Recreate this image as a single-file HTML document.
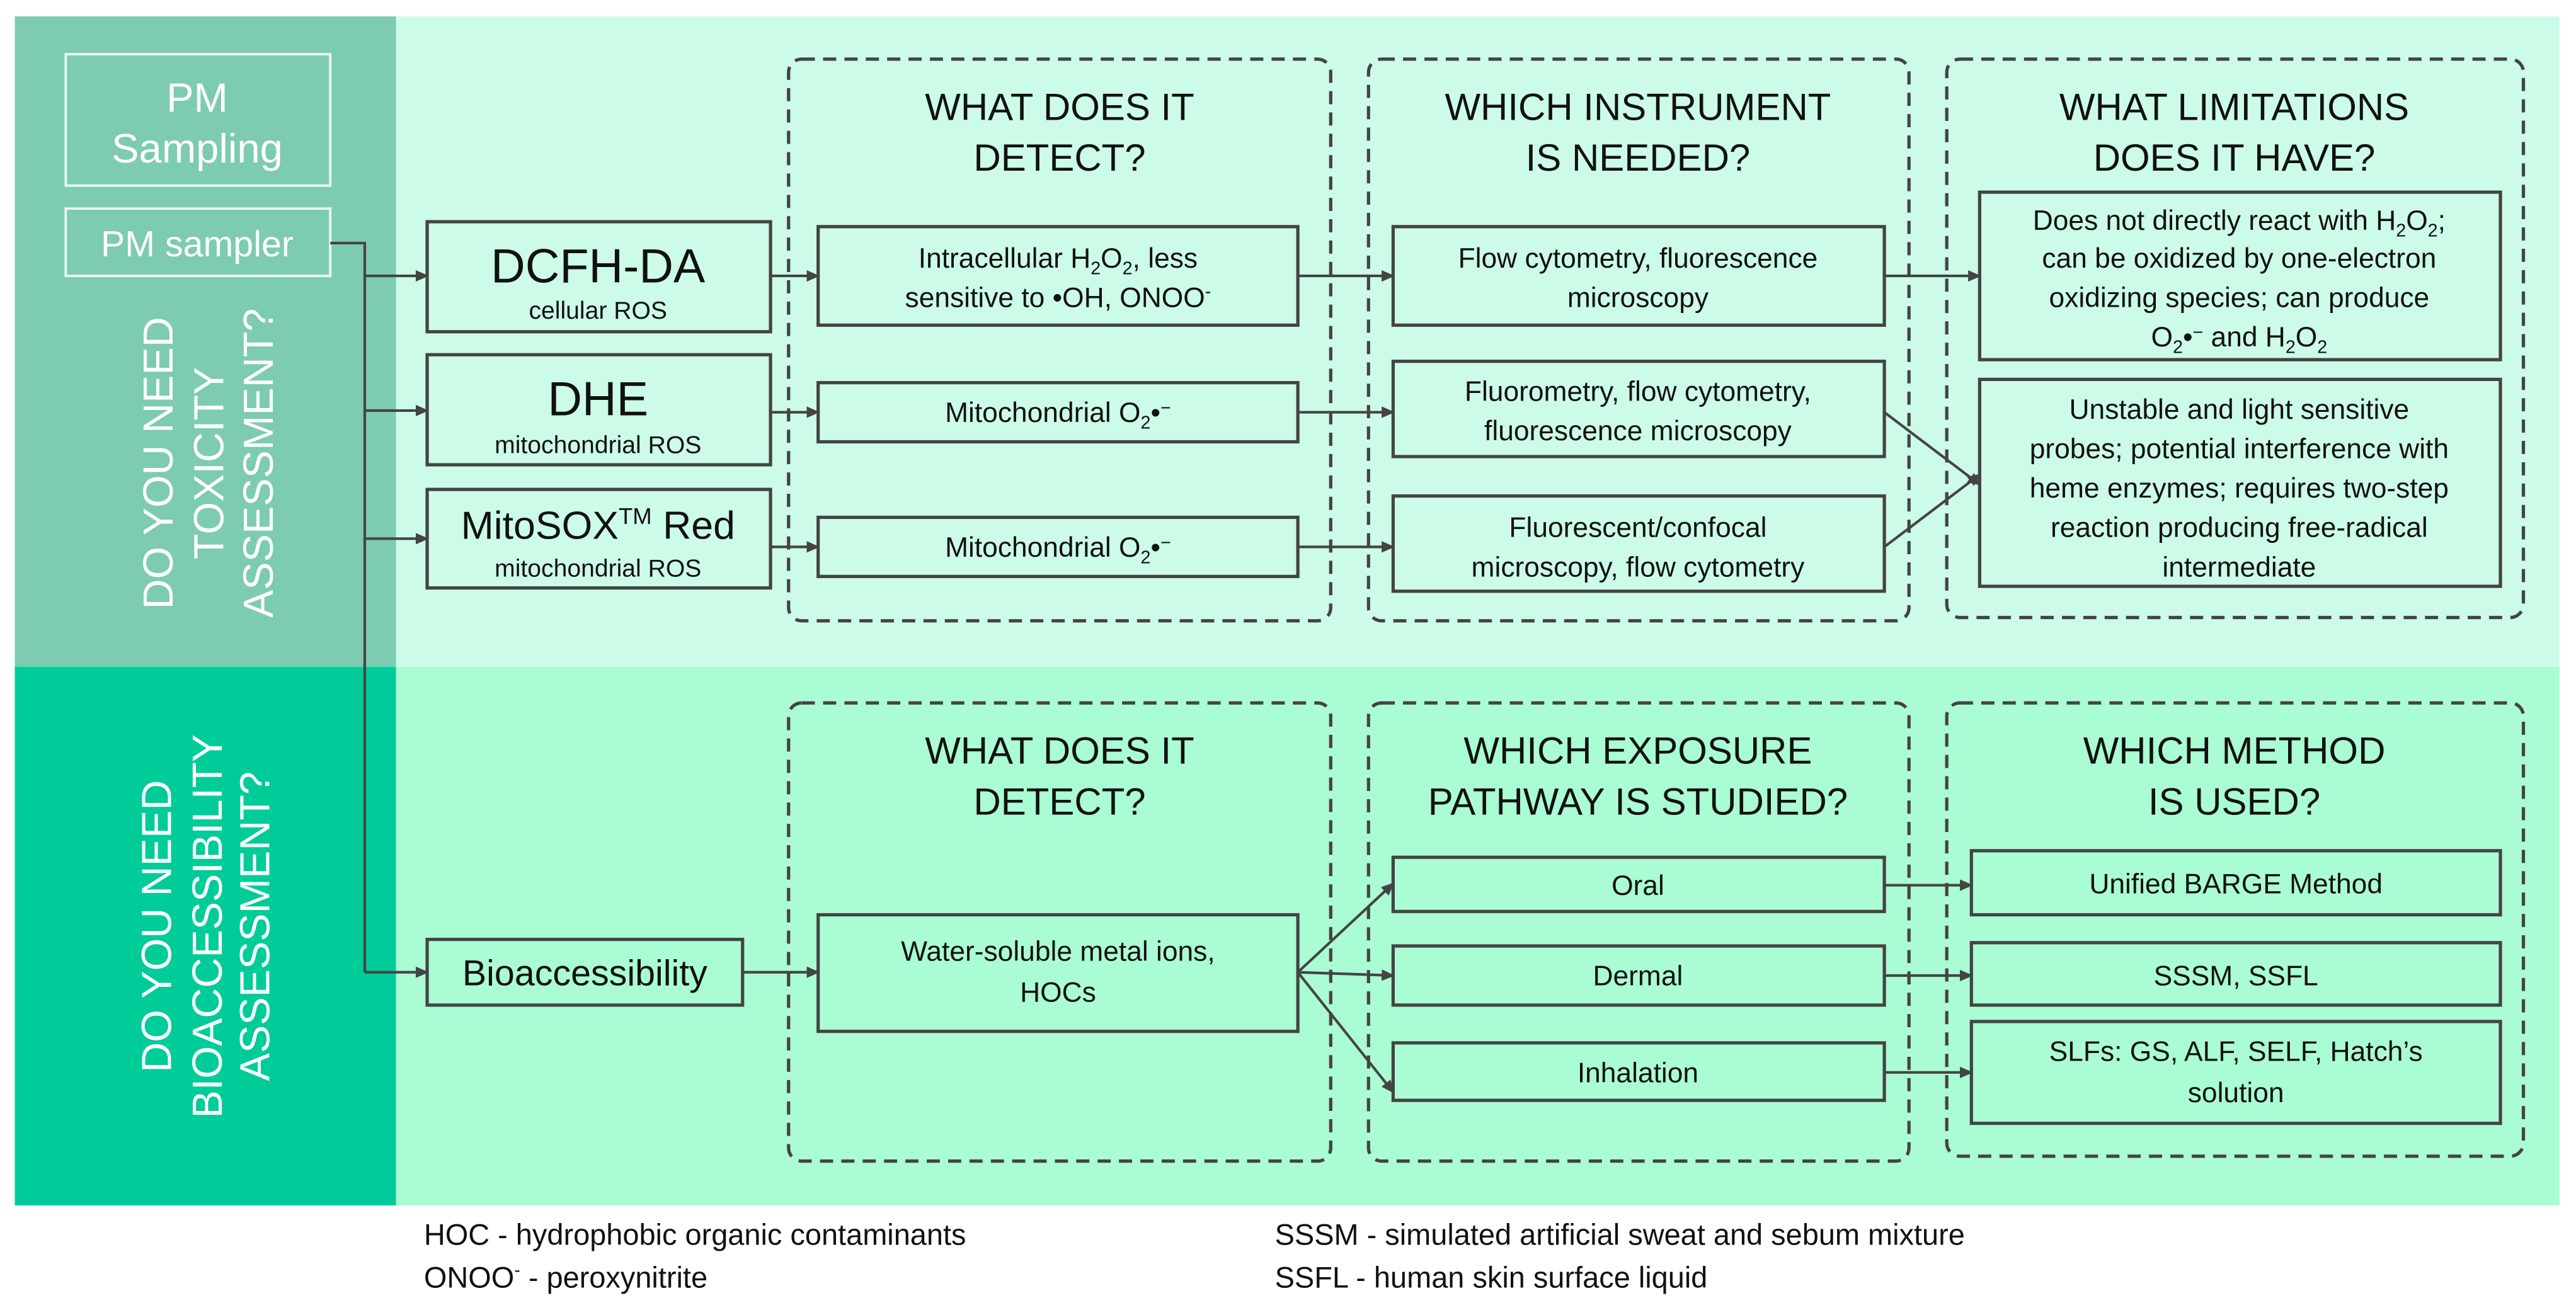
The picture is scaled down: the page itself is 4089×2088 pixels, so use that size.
<!DOCTYPE html>
<html><head><meta charset="utf-8"><style>
html,body{margin:0;padding:0;background:#fff;}
svg{display:block;}
text{font-family:"Liberation Sans",Arial,sans-serif;fill:#111;}
.w{fill:#fff;}
.v{font-family:"Liberation Sans",Arial,sans-serif;fill:#fff;font-size:25.5px;}
.b{fill:none;stroke:#444;stroke-width:2;}
.d{fill:none;stroke:#444;stroke-width:2;stroke-dasharray:8 5;}
.l{fill:none;stroke:#444;stroke-width:1.6;}
.h{font-size:23px;}
.t{font-size:17px;}
</style></head><body>
<svg width="4089" height="2088" viewBox="0 0 1568 800.7" xmlns="http://www.w3.org/2000/svg">
<defs><marker id="a" markerWidth="8" markerHeight="8" refX="7" refY="4" orient="auto" markerUnits="userSpaceOnUse"><path d="M0,0.5 L8,4 L0,7.5z" fill="#444"/></marker></defs>
<rect x="0" y="0" width="1568" height="801" fill="#fff"/>
<rect x="9" y="10" width="232" height="396" fill="#7dcbb0"/>
<rect x="241" y="10" width="1317" height="396" fill="#ccfce8"/>
<rect x="9" y="406" width="232" height="328" fill="#00cc99"/>
<rect x="241" y="406" width="1317" height="328" fill="#aafcd4"/>

<!-- left labels -->
<rect x="40" y="33" width="161" height="80" fill="none" stroke="#e8f8f0" stroke-width="1.5"/>
<text class="w" x="120" y="68" font-size="25" text-anchor="middle">PM</text>
<text class="w" x="120" y="99" font-size="25" text-anchor="middle">Sampling</text>
<rect x="40" y="127" width="161" height="41" fill="none" stroke="#e8f8f0" stroke-width="1.5"/>
<text class="w" x="120" y="156" font-size="22" text-anchor="middle">PM sampler</text>

<g transform="translate(128,282) rotate(-90)"><text class="v" text-anchor="middle"><tspan x="0" y="-23">DO YOU NEED</tspan><tspan x="0" y="8">TOXICITY</tspan><tspan x="0" y="38">ASSESSMENT?</tspan></text></g>
<g transform="translate(126,564) rotate(-90)"><text class="v" text-anchor="middle"><tspan x="0" y="-22">DO YOU NEED</tspan><tspan x="0" y="9">BIOACCESSIBILITY</tspan><tspan x="0" y="38">ASSESSMENT?</tspan></text></g>

<!-- trunk -->
<polyline class="l" points="201,148 222,148 222,592"/>
<line class="l" x1="222" y1="168" x2="260" y2="168" marker-end="url(#a)"/>
<line class="l" x1="222" y1="250" x2="260" y2="250" marker-end="url(#a)"/>
<line class="l" x1="222" y1="328" x2="260" y2="328" marker-end="url(#a)"/>
<line class="l" x1="222" y1="592" x2="260" y2="592" marker-end="url(#a)"/>

<!-- probes -->
<rect class="b" x="260" y="135" width="209" height="67"/>
<text x="364" y="172" font-size="29" text-anchor="middle">DCFH-DA</text>
<text x="364" y="194" font-size="15" text-anchor="middle">cellular ROS</text>
<rect class="b" x="260" y="216" width="209" height="67"/>
<text x="364" y="253" font-size="29" text-anchor="middle">DHE</text>
<text x="364" y="276" font-size="15" text-anchor="middle">mitochondrial ROS</text>
<rect class="b" x="260" y="298" width="209" height="60"/>
<text x="364" y="328" font-size="24" text-anchor="middle">MitoSOX<tspan font-size="14" dy="-9">TM</tspan><tspan dy="9"> Red</tspan></text>
<text x="364" y="351" font-size="15" text-anchor="middle">mitochondrial ROS</text>
<rect class="b" x="260" y="572" width="192" height="40"/>
<text x="356" y="600" font-size="22" text-anchor="middle">Bioaccessibility</text>

<!-- dashed groups top -->
<rect class="d" x="480" y="36" width="330" height="342" rx="8"/>
<rect class="d" x="833" y="36" width="329" height="342" rx="8"/>
<rect class="d" x="1185" y="36" width="351" height="340" rx="8"/>
<text class="h" x="645" y="73" text-anchor="middle">WHAT DOES IT</text>
<text class="h" x="645" y="104" text-anchor="middle">DETECT?</text>
<text class="h" x="997" y="73" text-anchor="middle">WHICH INSTRUMENT</text>
<text class="h" x="997" y="104" text-anchor="middle">IS NEEDED?</text>
<text class="h" x="1360" y="73" text-anchor="middle">WHAT LIMITATIONS</text>
<text class="h" x="1360" y="104" text-anchor="middle">DOES IT HAVE?</text>

<rect class="b" x="498" y="138" width="292" height="60"/>
<text class="t" x="644" y="163" text-anchor="middle">Intracellular H<tspan font-size="11" dy="4">2</tspan><tspan dy="-4">O</tspan><tspan font-size="11" dy="4">2</tspan><tspan dy="-4">, less</tspan></text>
<text class="t" x="644" y="187" text-anchor="middle">sensitive to •OH, ONOO<tspan font-size="11" dy="-6">-</tspan></text>
<rect class="b" x="498" y="233" width="292" height="36"/>
<text class="t" x="644" y="257" text-anchor="middle">Mitochondrial O<tspan font-size="11" dy="4">2</tspan><tspan dy="-4">•</tspan><tspan font-size="11" dy="-5">−</tspan></text>
<rect class="b" x="498" y="315" width="292" height="36"/>
<text class="t" x="644" y="339" text-anchor="middle">Mitochondrial O<tspan font-size="11" dy="4">2</tspan><tspan dy="-4">•</tspan><tspan font-size="11" dy="-5">−</tspan></text>

<rect class="b" x="848" y="138" width="299" height="60"/>
<text class="t" x="997" y="163" text-anchor="middle">Flow cytometry, fluorescence</text>
<text class="t" x="997" y="187" text-anchor="middle">microscopy</text>
<rect class="b" x="848" y="220" width="299" height="58"/>
<text class="t" x="997" y="244" text-anchor="middle">Fluorometry, flow cytometry,</text>
<text class="t" x="997" y="268" text-anchor="middle">fluorescence microscopy</text>
<rect class="b" x="848" y="302" width="299" height="58"/>
<text class="t" x="997" y="327" text-anchor="middle">Fluorescent/confocal</text>
<text class="t" x="997" y="351" text-anchor="middle">microscopy, flow cytometry</text>

<rect class="b" x="1205" y="117" width="317" height="102"/>
<text class="t" text-anchor="middle"><tspan x="1363" y="140">Does not directly react with H<tspan font-size="11" dy="4">2</tspan><tspan dy="-4">O</tspan><tspan font-size="11" dy="4">2</tspan><tspan dy="-4">;</tspan></tspan><tspan x="1363" y="163">can be oxidized by one-electron</tspan><tspan x="1363" y="187">oxidizing species; can produce</tspan><tspan x="1363" y="211">O<tspan font-size="11" dy="4">2</tspan><tspan dy="-4">•</tspan><tspan font-size="11" dy="-5">−</tspan><tspan dy="5"> and H</tspan><tspan font-size="11" dy="4">2</tspan><tspan dy="-4">O</tspan><tspan font-size="11" dy="4">2</tspan></tspan></text>
<rect class="b" x="1205" y="231" width="317" height="126"/>
<text class="t" text-anchor="middle"><tspan x="1363" y="255">Unstable and light sensitive</tspan><tspan x="1363" y="279">probes; potential interference with</tspan><tspan x="1363" y="303">heme enzymes; requires two-step</tspan><tspan x="1363" y="327">reaction producing free-radical</tspan><tspan x="1363" y="351">intermediate</tspan></text>

<line class="l" x1="469" y1="168" x2="498" y2="168" marker-end="url(#a)"/>
<line class="l" x1="469" y1="251" x2="498" y2="251" marker-end="url(#a)"/>
<line class="l" x1="469" y1="333" x2="498" y2="333" marker-end="url(#a)"/>
<line class="l" x1="790" y1="168" x2="848" y2="168" marker-end="url(#a)"/>
<line class="l" x1="790" y1="251" x2="848" y2="251" marker-end="url(#a)"/>
<line class="l" x1="790" y1="333" x2="848" y2="333" marker-end="url(#a)"/>
<line class="l" x1="1147" y1="168" x2="1205" y2="168" marker-end="url(#a)"/>
<line class="l" x1="1147" y1="251" x2="1205" y2="295" marker-end="url(#a)"/>
<line class="l" x1="1147" y1="333" x2="1205" y2="289" marker-end="url(#a)"/>

<!-- bottom -->
<rect class="d" x="480" y="428" width="330" height="279" rx="8"/>
<rect class="d" x="833" y="428" width="329" height="279" rx="8"/>
<rect class="d" x="1185" y="428" width="351" height="276" rx="8"/>
<text class="h" x="645" y="465" text-anchor="middle">WHAT DOES IT</text>
<text class="h" x="645" y="496" text-anchor="middle">DETECT?</text>
<text class="h" x="997" y="465" text-anchor="middle">WHICH EXPOSURE</text>
<text class="h" x="997" y="496" text-anchor="middle">PATHWAY IS STUDIED?</text>
<text class="h" x="1360" y="465" text-anchor="middle">WHICH METHOD</text>
<text class="h" x="1360" y="496" text-anchor="middle">IS USED?</text>

<rect class="b" x="498" y="557" width="292" height="71"/>
<text class="t" x="644" y="585" text-anchor="middle">Water-soluble metal ions,</text>
<text class="t" x="644" y="610" text-anchor="middle">HOCs</text>

<rect class="b" x="848" y="522" width="299" height="33"/>
<text class="t" x="997" y="545" text-anchor="middle">Oral</text>
<rect class="b" x="848" y="576" width="299" height="36"/>
<text class="t" x="997" y="600" text-anchor="middle">Dermal</text>
<rect class="b" x="848" y="635" width="299" height="35"/>
<text class="t" x="997" y="659" text-anchor="middle">Inhalation</text>

<rect class="b" x="1200" y="518" width="322" height="39"/>
<text class="t" x="1361" y="544" text-anchor="middle">Unified BARGE Method</text>
<rect class="b" x="1200" y="574" width="322" height="38"/>
<text class="t" x="1361" y="600" text-anchor="middle">SSSM, SSFL</text>
<rect class="b" x="1200" y="622" width="322" height="62"/>
<text class="t" x="1361" y="646" text-anchor="middle">SLFs: GS, ALF, SELF, Hatch’s</text>
<text class="t" x="1361" y="671" text-anchor="middle">solution</text>

<line class="l" x1="452" y1="592" x2="498" y2="592" marker-end="url(#a)"/>
<line class="l" x1="790" y1="592" x2="848" y2="538" marker-end="url(#a)"/>
<line class="l" x1="790" y1="592" x2="848" y2="594" marker-end="url(#a)"/>
<line class="l" x1="790" y1="592" x2="848" y2="665" marker-end="url(#a)"/>
<line class="l" x1="1147" y1="539" x2="1200" y2="539" marker-end="url(#a)"/>
<line class="l" x1="1147" y1="594" x2="1200" y2="594" marker-end="url(#a)"/>
<line class="l" x1="1147" y1="653" x2="1200" y2="653" marker-end="url(#a)"/>

<!-- footer -->
<text x="258" y="758" font-size="18">HOC - hydrophobic organic contaminants</text>
<text x="258" y="784" font-size="18">ONOO<tspan font-size="11" dy="-7">-</tspan><tspan dy="7"> - peroxynitrite</tspan></text>
<text x="776" y="758" font-size="18">SSSM - simulated artificial sweat and sebum mixture</text>
<text x="776" y="784" font-size="18">SSFL - human skin surface liquid</text>
</svg>
</body></html>
